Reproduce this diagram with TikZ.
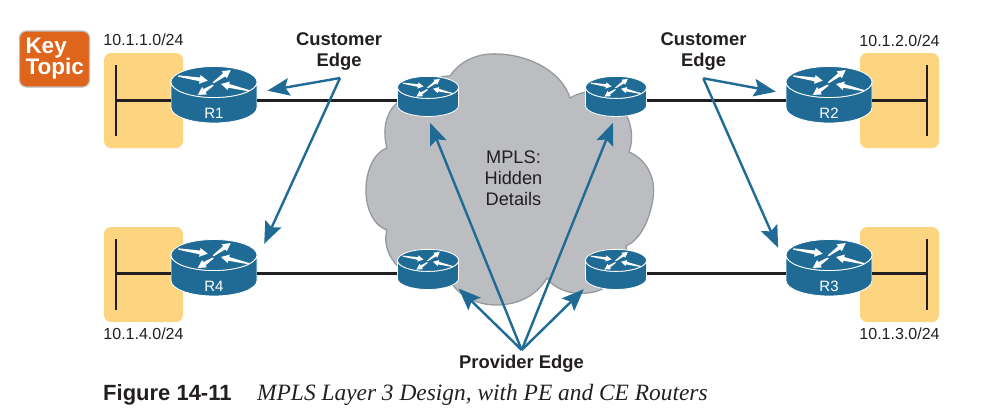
\documentclass[tikz,border=0pt]{standalone}
\usepackage{fontspec}
\setmainfont{Liberation Sans}
\newfontfamily\capfont{Liberation Serif}
\usetikzlibrary{arrows.meta}
\definecolor{routerblue}{HTML}{1F6B96}
\definecolor{lanyellow}{HTML}{FDD580}
\definecolor{cloudgray}{HTML}{BBBDC0}
\definecolor{cloudedge}{HTML}{979A9D}
\definecolor{keyorange}{HTML}{DF651C}
\definecolor{inkblack}{HTML}{231F20}
\tikzset{
  routerbody/.style={fill=routerblue, draw=white, line width=0.8pt},
  routertext/.style={text=white, font=\fontsize{15}{15}\selectfont, inner sep=0pt},
  lan/.style={fill=lanyellow, rounded corners=7pt, minimum width=79pt, minimum height=95pt, inner sep=0pt},
  wire/.style={draw=inkblack, line width=2.4pt},
  pointer/.style={draw=routerblue, line width=2.4pt, -{Stealth[length=22pt,width=17.5pt,inset=4pt]}},
  subnet/.style={text=inkblack, font=\fontsize{16}{16}\selectfont, inner sep=0pt},
  callout/.style={text=inkblack, font=\bfseries\fontsize{18.4}{21}\selectfont, align=center, inner sep=0pt}
}
% name, x, y of the link, scale
\newcommand{\router}[4]{
  \node[minimum width={86*#4}, minimum height={46*#4}, inner sep=0pt] (#1) at (#2,#3) {};
  \begin{scope}[shift={(#2,#3)}, scale=#4]
    \path[routerbody] (-43,-18.5) -- (-43,7) arc[start angle=180, end angle=0, x radius=43, y radius=15.5]
      -- (43,-18.5) arc[start angle=0, end angle=180, x radius=43, y radius=15.5] -- cycle;
    \path[routerbody] (0,-18.5) ellipse[x radius=43, y radius=15.5];
    \foreach \xa/\ya/\ang/\len in {-35.7/-24.5/-9/29.8, -0.7/-17.8/36/21.5, 35/-9.8/166.5/28.8, -0.7/-15.5/212.7/18.5}
      \fill[white, shift={(\xa,\ya)}, rotate=\ang] (0,0.7) -- (\len-8,1.9) -- (\len-8,4.4) -- (\len,0)
        -- (\len-8,-4.4) -- (\len-8,-1.9) -- (0,-0.7) -- cycle;
  \end{scope}
}
\begin{document}
\begin{tikzpicture}[x=1pt, y=-1pt]
  \useasboundingbox (0,0) rectangle (1000,410);

  % cloud
  \draw[fill=cloudgray, draw=cloudedge, line width=1.3pt] (450,76)
    .. controls (462,58) and (482,53) .. (498,54)
    .. controls (530,55) and (562,72) .. (570,98)
    .. controls (590,86) and (612,92) .. (622,108)
    .. controls (632,122) and (634,138) .. (629,152)
    .. controls (648,160) and (656,180) .. (653,198)
    .. controls (650,220) and (640,240) .. (626,246)
    .. controls (632,268) and (610,292) .. (587,293)
    .. controls (570,295) and (553,288) .. (547,278)
    .. controls (535,298) and (515,305) .. (496,305)
    .. controls (480,305) and (462,298) .. (453,285)
    .. controls (420,292) and (378,262) .. (387,230)
    .. controls (372,225) and (365,205) .. (366,187)
    .. controls (367,168) and (375,152) .. (387,148)
    .. controls (382,130) and (386,112) .. (397,103)
    .. controls (408,92) and (430,76) .. (450,76) -- cycle;

  % subnets
  \node[lan] (lan1) at (143.5,100.5) {};
  \node[lan] (lan4) at (143.5,274.5) {};
  \node[lan] (lan2) at (899.5,100.5) {};
  \node[lan] (lan3) at (899.5,274.5) {};

  % routers
  \router{R1}{214}{100.5}{1}
  \router{R4}{214}{273.5}{1}
  \router{R2}{829}{100.5}{1}
  \router{R3}{829}{273.5}{1}
  \router{pe1}{428}{100.5}{0.71}
  \router{pe4}{428}{273.5}{0.71}
  \router{pe2}{616}{100.5}{0.71}
  \router{pe3}{616}{273.5}{0.71}
  \node[routertext] (txtR1) at ([yshift=-13pt]R1) {R1};
  \node[routertext] (txtR4) at ([yshift=-13pt]R4) {R4};
  \node[routertext] (txtR2) at ([yshift=-13pt]R2) {R2};
  \node[routertext] (txtR3) at ([yshift=-13pt]R3) {R3};

  % links
  \draw[wire] (R1) -- (pe1);
  \draw[wire] (R4) -- (pe4);
  \draw[wire] (pe2) -- (R2);
  \draw[wire] (pe3) -- (R3);
  \draw[wire] (R1.west) -- ([xshift=12pt]lan1.west);
  \draw[wire] (R4.west) -- ([xshift=12pt,yshift=1pt]lan4.west);
  \draw[wire] (R2.east) -- ([xshift=-12pt]lan2.east);
  \draw[wire] (R3.east) -- ([xshift=-12pt,yshift=1pt]lan3.east);
  \draw[wire] ([xshift=12pt,yshift=35.5pt]lan1.west) -- ([xshift=12pt,yshift=-35.5pt]lan1.west);
  \draw[wire] ([xshift=12pt,yshift=35.5pt]lan4.west) -- ([xshift=12pt,yshift=-35.5pt]lan4.west);
  \draw[wire] ([xshift=-12pt,yshift=35.5pt]lan2.east) -- ([xshift=-12pt,yshift=-35.5pt]lan2.east);
  \draw[wire] ([xshift=-12pt,yshift=35.5pt]lan3.east) -- ([xshift=-12pt,yshift=-35.5pt]lan3.east);

  % labels
  \node[subnet] (net1) at (143.5,40) {10.1.1.0/24};
  \node[subnet] (net2) at (899.5,41) {10.1.2.0/24};
  \node[subnet] (net4) at (143.5,334) {10.1.4.0/24};
  \node[subnet] (net3) at (899.5,334) {10.1.3.0/24};
  \node[callout] (ceL) at (339,51.5) {Customer\\Edge};
  \node[callout] (ceR) at (703.5,51.5) {Customer\\Edge};
  \node[callout] (peB) at (521.5,364) {Provider Edge};
  \node[text=inkblack, font=\fontsize{18.2}{21}\selectfont, align=center, inner sep=0pt] (mpls) at (513.5,178) {MPLS:\\Hidden\\Details};

  \node[fill=keyorange, draw=cloudgray, line width=1.2pt, rounded corners=7pt, minimum width=70pt, minimum height=56pt,
    text=white, text width=58pt, font=\bfseries\fontsize{22.5}{21}\selectfont, align=left, inner sep=0pt] (key) at (54.5,59) {Key\\Topic};

  % pointers
  \coordinate (tipL) at (340,78);
  \coordinate (tipR) at (703.3,78.3);
  \coordinate (tipB) at (521.7,350);
  \draw[pointer] (tipL) -- ([xshift=10.3pt,yshift=9.8pt]R1.east);
  \draw[pointer] (tipL) -- ([xshift=7pt,yshift=6.5pt]R4.north east);
  \draw[pointer] (tipR) -- ([xshift=-10pt,yshift=8.8pt]R2.west);
  \draw[pointer] (tipR) -- ([xshift=-7.7pt,yshift=2.5pt]R3.north west);
  \draw[pointer] (tipB) -- ([xshift=2pt,yshift=-5.8pt]pe1.south);
  \draw[pointer] (tipB) -- ([xshift=-3pt,yshift=-5.8pt]pe2.south);
  \draw[pointer] (tipB) -- ([yshift=1.5pt]pe4.south east);
  \draw[pointer] (tipB) -- ([xshift=-1.5pt,yshift=0.8pt]pe3.south west);

  % caption
  \node[anchor=base west, text=inkblack, font=\bfseries\fontsize{22}{22}\selectfont, inner sep=0pt] (figno) at (103,400) {Figure 14-11};
  \node[anchor=base west, text=inkblack, font=\capfont\itshape\fontsize{23.4}{24}\selectfont, inner sep=0pt] (figcap) at (257,400) {MPLS Layer 3 Design, with PE and CE Routers};
\end{tikzpicture}
\end{document}
